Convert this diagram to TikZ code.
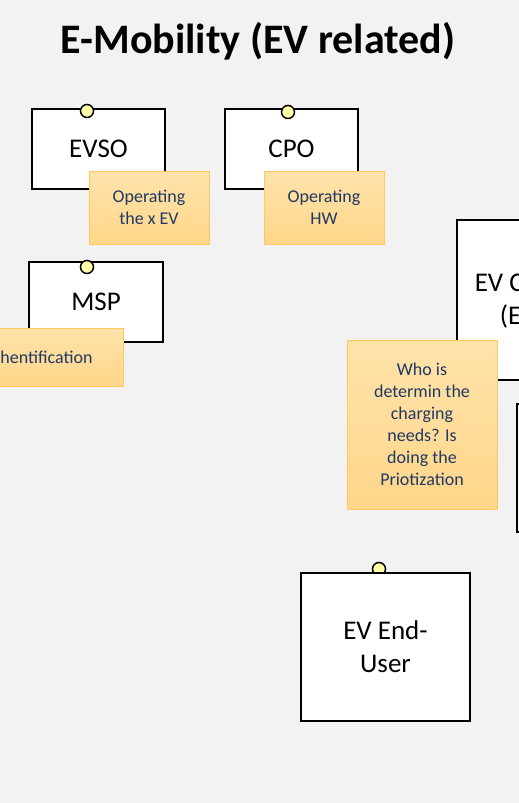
\documentclass[tikz,border=0pt]{standalone}
\usepackage{fontspec}
\setmainfont{Carlito}
\definecolor{canvasbg}{HTML}{F2F2F2}
\definecolor{notetext}{HTML}{203864}
\definecolor{notetop}{HTML}{FFE3AA}
\definecolor{notebot}{HTML}{FFD68A}
\definecolor{noteedge}{HTML}{FFC95C}
\definecolor{pinfill}{HTML}{FFFFA8}

\begin{document}
\begin{tikzpicture}[x=1pt,y=-1pt,
  actor/.style={draw=black, line width=2pt, fill=white, inner sep=0pt,
    align=center, font=\fontsize{27}{33}\selectfont},
  note/.style={draw=noteedge, line width=1pt, top color=notetop,
    bottom color=notebot, text=notetext, inner sep=0pt, align=center,
    font=\fontsize{18}{22}\selectfont},
  pinball/.style={circle, draw=black, line width=1.5pt, fill=pinfill,
    minimum size=13pt, inner sep=0pt}]

  % canvas
  \useasboundingbox (0,0) rectangle (519,803);
  \clip (0,0) rectangle (519,803);
  \fill[canvasbg] (0,0) rectangle (519,803);

  % title
  \node[font=\fontsize{42}{50}\selectfont\bfseries] (title) at (258,41)
    {E-Mobility (EV related)};

  % pin sitting behind the end-user box
  \node[pinball] (pinuser) at (379,569) {};

  % actor boxes
  \node[actor, minimum width=133pt, minimum height=80pt] (evso) at (98.5,148.5) {EVSO};
  \node[actor, minimum width=133pt, minimum height=80pt] (cpo) at (291.5,148.5) {CPO};
  \node[actor, minimum width=134pt, minimum height=80pt] (msp) at (96,302) {MSP};
  \node[actor, minimum width=156pt, minimum height=160pt] (evc) at (535,300)
    {EV Charger\\(EVSE)};
  \node[actor, minimum width=133pt, minimum height=128pt] (side) at (583.5,468) {};
  \node[actor, minimum width=169pt, minimum height=148pt] (user) at (385.5,647)
    {EV End-\\User};

  % pins on top of the boxes
  \node[pinball] (pinevso) at (87,111) {};
  \node[pinball] (pincpo) at (288,112) {};
  \node[pinball] (pinmsp) at (87,267) {};

  % sticky notes
  \node[note, minimum width=120pt, minimum height=73pt] (nevso) at (149,207.5)
    {Operating\\the x EV};
  \node[note, minimum width=120pt, minimum height=73pt] (ncpo) at (324,207.5)
    {Operating\\HW};
  \node[note, minimum width=179pt, minimum height=58pt] (nmsp) at (33.5,357)
    {Authentification};
  \node[note, minimum width=150pt, minimum height=169pt] (nwho) at (422,424.5)
    {Who is\\determin the\\charging\\needs? Is\\doing the\\Priotization};
\end{tikzpicture}
\end{document}
